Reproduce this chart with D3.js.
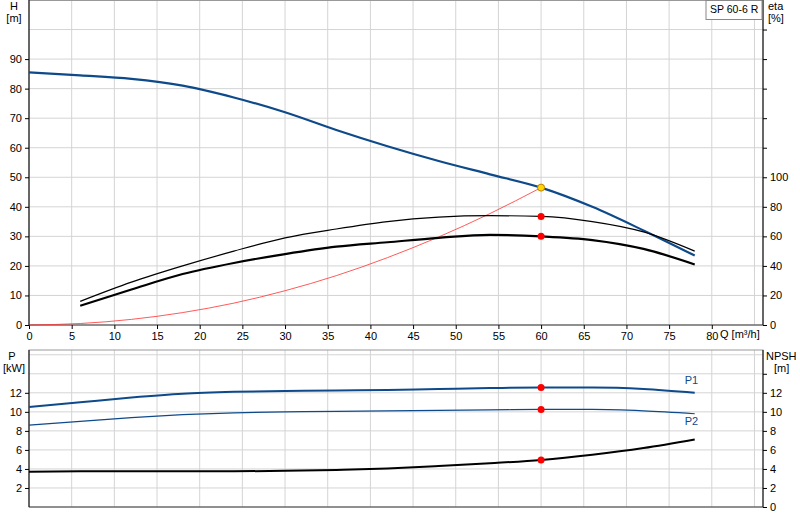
<!DOCTYPE html><html><head><script src="https://cdn.jsdelivr.net/npm/d3@7"></script>
<style>body{margin:0;background:#fff}text{font-family:"Liberation Sans",Arial,sans-serif;font-size:11px}</style></head><body><svg id="c" width="800" height="520"></svg>
<script>
const Q=[0,6,12,18,24,30,36,42,48,54,60,66,72,78];
const H=[85.5,84.5,83.3,81,77,72,66,60.5,55.5,51,46.5,40,32,23.5];
const Qe=[6,12,18,24,30,36,42,48,54,60,66,72,78];
const eta1=[16,29,40,50,59,65,70,73,74,73.5,70,63,50];
const eta2=[13,24,34.5,42,48,53,56,59,61,60,57.5,51.5,41];
const Qs=[0,6,12,18,24,30,36,42,48,54,60];
const Hs=[0,0.5,1.9,4.2,7.4,11.6,16.7,22.8,29.8,37.7,46.5];
const P1=[10.5,11,11.5,11.9,12.1,12.2,12.25,12.3,12.4,12.5,12.55,12.55,12.4,12.0];
const P2=[8.6,9.0,9.4,9.7,9.9,10.0,10.05,10.1,10.15,10.2,10.25,10.25,10.1,9.8];
const NPSH=[3.7,3.75,3.75,3.75,3.75,3.8,3.9,4.05,4.3,4.6,4.95,5.5,6.2,7.1];
const dutyQ=60;
const xTicks=[0,5,10,15,20,25,30,35,40,45,50,55,60,65,70,75,80];
const svg=d3.select("#c");
const L=29,R=763;
const x=d3.scaleLinear().domain([0,86]).range([L,R]);
const yH=d3.scaleLinear().domain([0,110]).range([325,0]);
const yE=d3.scaleLinear().domain([0,220]).range([325,0]);
const yP=d3.scaleLinear().domain([0,16.5]).range([507,350]);
const grid="#d4d4d4";
function panel(y,top,bot,step){
  const g=svg.append("g");
  for(let v=5;v<=85;v+=5) g.append("line").attr("x1",x(v)).attr("x2",x(v)).attr("y1",top).attr("y2",bot).attr("stroke",grid);
  for(let v=step;y(v)>top;v+=step) g.append("line").attr("x1",L).attr("x2",R).attr("y1",y(v)).attr("y2",y(v)).attr("stroke",grid);
}
panel(yH,0,325,10);
panel(yP,350,507,2);
svg.append("rect").attr("x",L).attr("y",0.5).attr("width",R-L).attr("height",324.5).attr("fill","none").attr("stroke","#999");
svg.append("rect").attr("x",L).attr("y",350).attr("width",R-L).attr("height",157).attr("fill","none").attr("stroke","#999");
[325,507].forEach(v=>svg.append("line").attr("x1",L).attr("x2",R).attr("y1",v).attr("y2",v).attr("stroke","#555"));
[[0,325],[350,507]].forEach(a=>{svg.append("line").attr("x1",L).attr("x2",L).attr("y1",a[0]).attr("y2",a[1]).attr("stroke","#000");svg.append("line").attr("x1",R).attr("x2",R).attr("y1",a[0]).attr("y2",a[1]).attr("stroke","#000");});
svg.append("g").attr("transform","translate(0,325)").call(d3.axisBottom(x).tickValues(xTicks).tickSize(4)).call(g=>g.select(".domain").remove());
svg.append("g").attr("transform",`translate(${L},0)`).call(d3.axisLeft(yH).tickValues(d3.range(0,100,10)).tickSize(4)).call(g=>g.select(".domain").remove());
svg.append("g").attr("transform",`translate(${R},0)`).call(d3.axisRight(yE).tickValues(d3.range(0,101,20)).tickSize(4)).call(g=>g.select(".domain").remove());
svg.append("g").attr("transform",`translate(${R},0)`).call(d3.axisRight(yE).tickValues([120,140,160,180,200]).tickSize(4).tickFormat("")).call(g=>g.select(".domain").remove());
svg.append("g").attr("transform",`translate(${L},0)`).call(d3.axisLeft(yP).tickValues([2,4,6,8,10,12]).tickSize(4)).call(g=>g.select(".domain").remove());
svg.append("g").attr("transform",`translate(${R},0)`).call(d3.axisRight(yP).tickValues([0,2,4,6,8,10,12,14]).tickSize(4).tickFormat(d=>d==14?"":d)).call(g=>g.select(".domain").remove());
svg.selectAll(".tick text").style("font-size","11px").attr("fill","#000");
const t=(tx,xx,yy,a,c)=>svg.append("text").text(tx).attr("x",xx).attr("y",yy).attr("text-anchor",a||"start").attr("fill",c||"#000");
t("H",14,10,"middle");t("[m]",14,22,"middle");
t("eta",768,10);t("[%]",768,22);
t("P",12,360,"middle");t("[kW]",14,372,"middle");
t("NPSH",766,360);t("[m]",774,372);
t("Q [m³/h]",720,338);
svg.append("rect").attr("x",706).attr("y",0.5).attr("width",56).attr("height",19).attr("fill","#fff").attr("stroke","#888");
t("SP 60-6 R",710,13).style("font-size","10.5px");
const line=(xs,ys,y,c,w)=>svg.append("path").datum(xs.map((q,i)=>[q,ys[i]])).attr("fill","none").attr("stroke",c).attr("stroke-width",w).attr("d",d3.line().x(d=>x(d[0])).y(d=>y(d[1])).curve(d3.curveMonotoneX));
line(Qs,Hs,yH,"#ff3030",0.8);
line(Q,H,yH,"#0e4a8a",2.2);
line(Qe,eta1,yE,"#000",1.2);
line(Qe,eta2,yE,"#000",2.2);
line(Q,P1,yP,"#0e4a8a",2);
line(Q,P2,yP,"#0e4a8a",1.2);
line(Q,NPSH,yP,"#000",2);
t("P1",x(78)-10,yP(12.9),"start","#0e4a8a");
t("P2",x(78)-10,yP(8.6),"start","#0e4a8a");
const i=Q.indexOf(dutyQ),j=Qe.indexOf(dutyQ);
const dot=(cy,f)=>svg.append("circle").attr("cx",x(dutyQ)).attr("cy",cy).attr("r",3.5).attr("fill",f).attr("stroke",f=="#ffd700"?"#c08000":"none");
dot(yE(eta1[j]),"red");dot(yE(eta2[j]),"red");dot(yP(P1[i]),"red");dot(yP(P2[i]),"red");dot(yP(NPSH[i]),"red");
dot(yH(H[i]),"#ffd700");
</script></body></html>
